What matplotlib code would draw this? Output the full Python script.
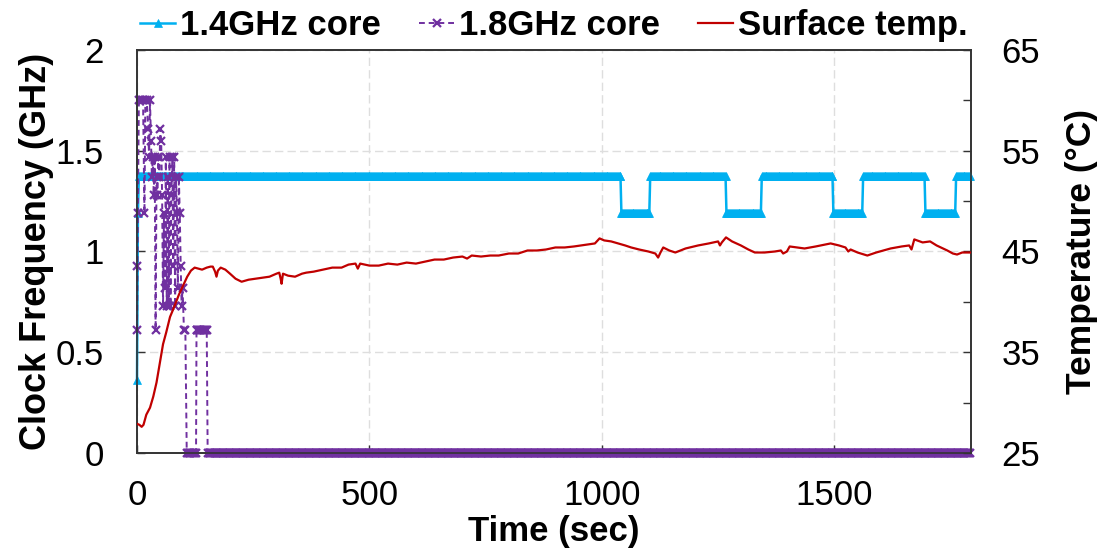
import numpy as np
import matplotlib
matplotlib.use("Agg")
import matplotlib.pyplot as plt

plt.rcParams['font.family'] = ['Liberation Sans', 'DejaVu Sans']

# ---------------- data ----------------
# 1.4GHz core: frequency level changes (time in sec, GHz)
core14_change_t = [0, 2, 4, 1042, 1103, 1267, 1344, 1497, 1561, 1695, 1761]
core14_change_f = [0.36, 1.19, 1.375, 1.19, 1.375, 1.19, 1.375, 1.19, 1.375, 1.19, 1.375]
core14_end = 1794
core14_step = 2

# 1.8GHz core: sampled points during the first ~150 s, then idle (0 GHz)
core18_t = [0, 1, 2, 4, 7, 10, 13, 16, 18, 21, 24, 26, 28, 30, 32, 34, 36, 38, 40,
            42, 44, 46, 48, 50, 52, 54, 56, 58, 60, 62, 64, 66, 68, 70, 72, 74, 76,
            78, 80, 82, 84, 86, 88, 90, 92, 94, 96, 98, 101, 104, 107, 109, 111,
            113, 115, 117, 119, 121, 123, 125, 127, 128, 130, 132, 134, 136, 138,
            140, 142, 144, 146, 148, 150, 152]
core18_f = [0.61, 0.93, 1.19, 1.75, 1.75, 1.75, 1.75, 1.19, 1.75, 1.75, 1.61, 1.47,
            1.75, 1.55, 1.37, 1.47, 1.28, 1.47, 0.61, 1.37, 1.28, 1.47, 1.37, 1.61,
            1.55, 1.28, 0.73, 1.19, 0.82, 1.47, 0.73, 1.37, 0.73, 1.47, 0.73, 1.28,
            1.47, 0.93, 1.47, 0.73, 1.37, 1.19, 0.82, 1.37, 1.19, 0.93, 0.73, 0.82,
            0.61, 0.61, 0.0, 0.0, 0.0, 0.0, 0.0, 0.0, 0.0, 0.0, 0.0, 0.0, 0.0, 0.61,
            0.61, 0.61, 0.61, 0.61, 0.61, 0.61, 0.61, 0.61, 0.61, 0.61, 0.61, 0.0]
core18_idle_f = 0.0
core18_end = 1794
core18_step = 2

# Surface temperature (time in sec, deg C)
temp_t = [0, 5, 10, 14, 20, 28, 35, 42, 49, 56, 63, 71, 80, 90, 99, 108, 116, 124,
          132, 140, 150, 158, 163, 168, 171, 174, 180, 190, 200, 212, 225, 240, 255,
          270, 285, 300, 306, 309, 311, 314, 325, 340, 355, 364, 380, 400, 420, 440,
          455, 470, 475, 480, 500, 520, 540, 560, 580, 600, 620, 640, 660, 680, 700,
          710, 720, 740, 760, 778, 800, 820, 840, 860, 880, 900, 920, 940, 955, 970,
          985, 995, 1005, 1020, 1035, 1050, 1063, 1080, 1100, 1115, 1121, 1126, 1132,
          1145, 1158, 1180, 1207, 1230, 1250, 1254, 1258, 1267, 1280, 1299, 1315,
          1329, 1350, 1372, 1385, 1390, 1398, 1404, 1420, 1436, 1460, 1492, 1510,
          1524, 1530, 1535, 1550, 1571, 1590, 1621, 1645, 1661, 1666, 1672, 1690,
          1706, 1720, 1743, 1755, 1764, 1775, 1794]
temp_v = [27.9, 27.8, 27.6, 27.8, 28.8, 29.5, 30.6, 32.0, 33.9, 35.8, 37.0, 38.5,
          39.5, 40.7, 41.6, 42.5, 43.1, 43.4, 43.3, 43.2, 43.4, 43.5, 43.5, 43.0,
          42.5, 43.1, 43.4, 43.2, 42.8, 42.3, 42.0, 42.2, 42.3, 42.4, 42.5, 42.8,
          42.9, 42.3, 41.8, 42.8, 42.6, 42.5, 42.8, 42.9, 43.0, 43.2, 43.4, 43.4,
          43.7, 43.8, 43.3, 43.8, 43.6, 43.6, 43.8, 43.7, 43.9, 43.8, 44.0, 44.2,
          44.2, 44.4, 44.5, 44.3, 44.6, 44.5, 44.6, 44.6, 44.8, 44.8, 45.1, 45.1,
          45.2, 45.4, 45.4, 45.5, 45.6, 45.7, 45.8, 46.3, 46.1, 46.0, 45.8, 45.6,
          45.4, 45.2, 45.0, 44.8, 44.4, 44.9, 45.4, 45.1, 44.9, 45.3, 45.6, 45.8,
          46.0, 45.6, 45.9, 46.4, 46.0, 45.6, 45.2, 44.9, 44.9, 45.0, 45.1, 44.8,
          45.0, 45.5, 45.4, 45.3, 45.5, 45.8, 45.6, 45.4, 45.0, 45.2, 44.9, 44.6,
          44.9, 45.3, 45.5, 45.6, 45.2, 46.2, 45.9, 46.0, 45.6, 45.1, 44.8, 44.7,
          44.9, 44.9]

# axis ticks / labels
x_ticks = [0, 500, 1000, 1500]
x_ticklabels = ['0', '500', '1000', '1500']
yf_ticks = [0, 0.5, 1.0, 1.5, 2.0]
yf_ticklabels = ['0', '0.5', '1', '1.5', '2']
yt_ticks = [25, 35, 45, 55, 65]
yt_minor = [30, 40, 50, 60]
yt_ticklabels = ['25', '35', '45', '55', '65']

# ---------------- derived sample series ----------------
t14 = np.arange(0, core14_end, core14_step)
idx = np.searchsorted(core14_change_t, t14, side='right') - 1
f14 = np.asarray(core14_change_f)[idx]

t18_idle = np.arange(core18_t[-1] + core18_step, core18_end, core18_step)
t18 = np.concatenate([core18_t, t18_idle])
f18 = np.concatenate([core18_f, np.full(len(t18_idle), core18_idle_f)])

# ---------------- figure ----------------
W, H = 1102, 548
fig = plt.figure(figsize=(W / 100, H / 100), dpi=100)
L, R, T, B = 137, 971, 50, 453
ax1 = fig.add_axes([L / W, 1 - B / H, (R - L) / W, (B - T) / H])
ax2 = ax1.twinx()

blue = '#00B0F0'
purple = '#7030A0'
red = '#C00000'

h1, = ax1.plot(t14, f14, color=blue, lw=1.8, marker='^', ms=6,
               markeredgewidth=0.5, label='1.4GHz core', clip_on=False, zorder=3)
h2, = ax1.plot(t18, f18, color=purple, lw=1.4, ls=(0, (3, 2)), marker='x', ms=6,
               markeredgewidth=1.6, label='1.8GHz core', clip_on=False, zorder=4)
h3, = ax2.plot(temp_t, temp_v, color=red, lw=1.6, label='Surface temp.', zorder=5)

ax1.set_xlim(0, 1794)
ax1.set_ylim(0, 2)
ax2.set_ylim(25, 65)

ax1.set_xticks(x_ticks)
ax1.set_xticklabels(x_ticklabels)
ax1.set_yticks(yf_ticks)
ax1.set_yticklabels(yf_ticklabels)
ax2.set_yticks(yt_ticks)
ax2.set_yticks(yt_minor, minor=True)
ax2.set_yticklabels(yt_ticklabels)

ax1.grid(True, color='#dedede', lw=1.0, ls=(0, (6, 3)))
ax1.set_axisbelow(True)

ax1.tick_params(axis='x', direction='in', length=6, width=1, labelsize=25, pad=19,
                colors='#333333', labelcolor='black')
ax1.tick_params(axis='y', direction='in', length=6, width=1, labelsize=25, pad=24,
                colors='#333333', labelcolor='black')
ax2.tick_params(axis='y', which='both', direction='in', length=6, width=1,
                labelsize=25, pad=22, colors='#333333', labelcolor='black')

for ax in (ax1, ax2):
    for s in ax.spines.values():
        s.set_color('#333333')
        s.set_linewidth(1.2)

ax1.set_xlabel('Time (sec)', fontsize=25, fontweight='bold')
ax1.xaxis.set_label_coords(0.5, (B - 515) / (B - T))
ax1.set_ylabel('Clock Frequency (GHz)', fontsize=26, fontweight='bold')
ax1.yaxis.set_label_coords((54 - L) / (R - L), 0.5)
ax2.set_ylabel('Temperature (°C)', fontsize=25.5, fontweight='bold')
ax2.yaxis.set_label_coords((1065 - L) / (R - L), 0.5)

leg = ax2.legend(handles=[h1, h2, h3], loc='lower center',
                 bbox_to_anchor=(0.5, (B - 42) / (B - T)), ncol=3, frameon=False,
                 prop={'weight': 'bold', 'size': 25},
                 handlelength=1.0, handletextpad=0.15, columnspacing=1.1,
                 borderaxespad=0, borderpad=0)

fig.savefig('out.png', dpi=100)
